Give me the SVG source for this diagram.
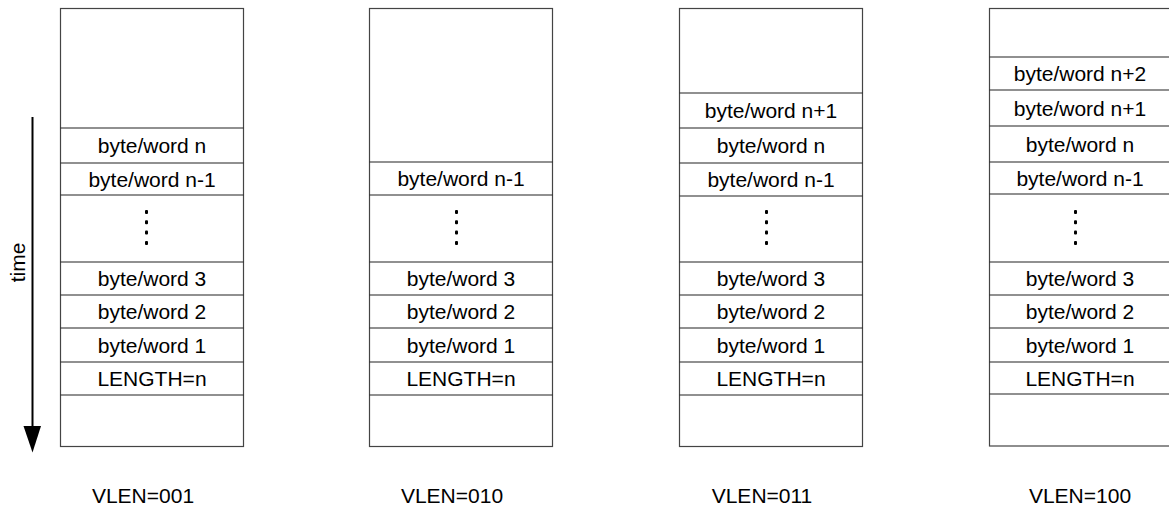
<svg xmlns="http://www.w3.org/2000/svg" width="1169" height="506" viewBox="0 0 1169 506">
<style>
.box{fill:#fff;stroke:#444;stroke-width:1.2}
.ln{stroke:#222;stroke-width:1.2}
.t{font-family:"Liberation Sans",Arial,sans-serif;font-size:21px;fill:#000;text-anchor:middle}
.dot{fill:#000}
</style>
<defs>
<g id="dots">
<rect x="-1.5" y="210" width="3" height="4" rx="1" class="dot"/>
<rect x="-1.5" y="220.3" width="3" height="4" rx="1" class="dot"/>
<rect x="-1.5" y="230.6" width="3" height="4" rx="1" class="dot"/>
<rect x="-1.5" y="241" width="3" height="4" rx="1" class="dot"/>
</g>
</defs>

<g id="time-axis">
<line x1="32.5" y1="117" x2="32.5" y2="428" stroke="#000" stroke-width="2"/>
<polygon points="23.5,426 41,426 32.5,452.5" fill="#000"/>
<text class="t" transform="translate(25,262.5) rotate(-90)">time</text>
</g>

<g id="col-001">
<rect class="box" x="60.5" y="8.5" width="183" height="438"/>
<g class="ln">
<line x1="60.5" y1="128" x2="243.5" y2="128"/>
<line x1="60.5" y1="163" x2="243.5" y2="163"/>
<line x1="60.5" y1="195" x2="243.5" y2="195"/>
<line x1="60.5" y1="262" x2="243.5" y2="262"/>
<line x1="60.5" y1="295" x2="243.5" y2="295"/>
<line x1="60.5" y1="328" x2="243.5" y2="328"/>
<line x1="60.5" y1="362" x2="243.5" y2="362"/>
<line x1="60.5" y1="395" x2="243.5" y2="395"/>
</g>
<text class="t" x="152" y="153">byte/word n</text>
<text class="t" x="152" y="186.5">byte/word n-1</text>
<text class="t" x="152" y="286">byte/word 3</text>
<text class="t" x="152" y="319">byte/word 2</text>
<text class="t" x="152" y="352.5">byte/word 1</text>
<text class="t" x="152" y="386">LENGTH=n</text>
<use href="#dots" x="146.5"/>
<text class="t" x="143" y="502.5">VLEN=001</text>
</g>

<g id="col-010">
<rect class="box" x="369.5" y="8.5" width="183" height="438"/>
<g class="ln">
<line x1="369.5" y1="162" x2="552.5" y2="162"/>
<line x1="369.5" y1="195" x2="552.5" y2="195"/>
<line x1="369.5" y1="262" x2="552.5" y2="262"/>
<line x1="369.5" y1="295" x2="552.5" y2="295"/>
<line x1="369.5" y1="328" x2="552.5" y2="328"/>
<line x1="369.5" y1="362" x2="552.5" y2="362"/>
<line x1="369.5" y1="395" x2="552.5" y2="395"/>
</g>
<text class="t" x="461" y="186">byte/word n-1</text>
<text class="t" x="461" y="286">byte/word 3</text>
<text class="t" x="461" y="319">byte/word 2</text>
<text class="t" x="461" y="352.5">byte/word 1</text>
<text class="t" x="461" y="386">LENGTH=n</text>
<use href="#dots" x="456.5"/>
<text class="t" x="452" y="502.5">VLEN=010</text>
</g>

<g id="col-011">
<rect class="box" x="679.5" y="8.5" width="183" height="438"/>
<g class="ln">
<line x1="679.5" y1="93" x2="862.5" y2="93"/>
<line x1="679.5" y1="128" x2="862.5" y2="128"/>
<line x1="679.5" y1="163" x2="862.5" y2="163"/>
<line x1="679.5" y1="196" x2="862.5" y2="196"/>
<line x1="679.5" y1="262" x2="862.5" y2="262"/>
<line x1="679.5" y1="295" x2="862.5" y2="295"/>
<line x1="679.5" y1="328" x2="862.5" y2="328"/>
<line x1="679.5" y1="362" x2="862.5" y2="362"/>
<line x1="679.5" y1="395" x2="862.5" y2="395"/>
</g>
<text class="t" x="771" y="118">byte/word n+1</text>
<text class="t" x="771" y="153">byte/word n</text>
<text class="t" x="771" y="187">byte/word n-1</text>
<text class="t" x="771" y="286">byte/word 3</text>
<text class="t" x="771" y="319">byte/word 2</text>
<text class="t" x="771" y="352.5">byte/word 1</text>
<text class="t" x="771" y="386">LENGTH=n</text>
<use href="#dots" x="766.5"/>
<text class="t" x="762" y="502.5">VLEN=011</text>
</g>

<g id="col-100">
<rect class="box" x="989.5" y="8.5" width="183" height="437.5"/>
<g class="ln">
<line x1="989.5" y1="57" x2="1172.5" y2="57"/>
<line x1="989.5" y1="90" x2="1172.5" y2="90"/>
<line x1="989.5" y1="126" x2="1172.5" y2="126"/>
<line x1="989.5" y1="162" x2="1172.5" y2="162"/>
<line x1="989.5" y1="194" x2="1172.5" y2="194"/>
<line x1="989.5" y1="262" x2="1172.5" y2="262"/>
<line x1="989.5" y1="295" x2="1172.5" y2="295"/>
<line x1="989.5" y1="328" x2="1172.5" y2="328"/>
<line x1="989.5" y1="362" x2="1172.5" y2="362"/>
<line x1="989.5" y1="394" x2="1172.5" y2="394"/>
</g>
<text class="t" x="1080" y="81">byte/word n+2</text>
<text class="t" x="1080" y="115.5">byte/word n+1</text>
<text class="t" x="1080" y="151.5">byte/word n</text>
<text class="t" x="1080" y="185.5">byte/word n-1</text>
<text class="t" x="1080" y="286">byte/word 3</text>
<text class="t" x="1080" y="319">byte/word 2</text>
<text class="t" x="1080" y="352.5">byte/word 1</text>
<text class="t" x="1080" y="385.5">LENGTH=n</text>
<use href="#dots" x="1075.5"/>
<text class="t" x="1080" y="502.5">VLEN=100</text>
</g>
</svg>
